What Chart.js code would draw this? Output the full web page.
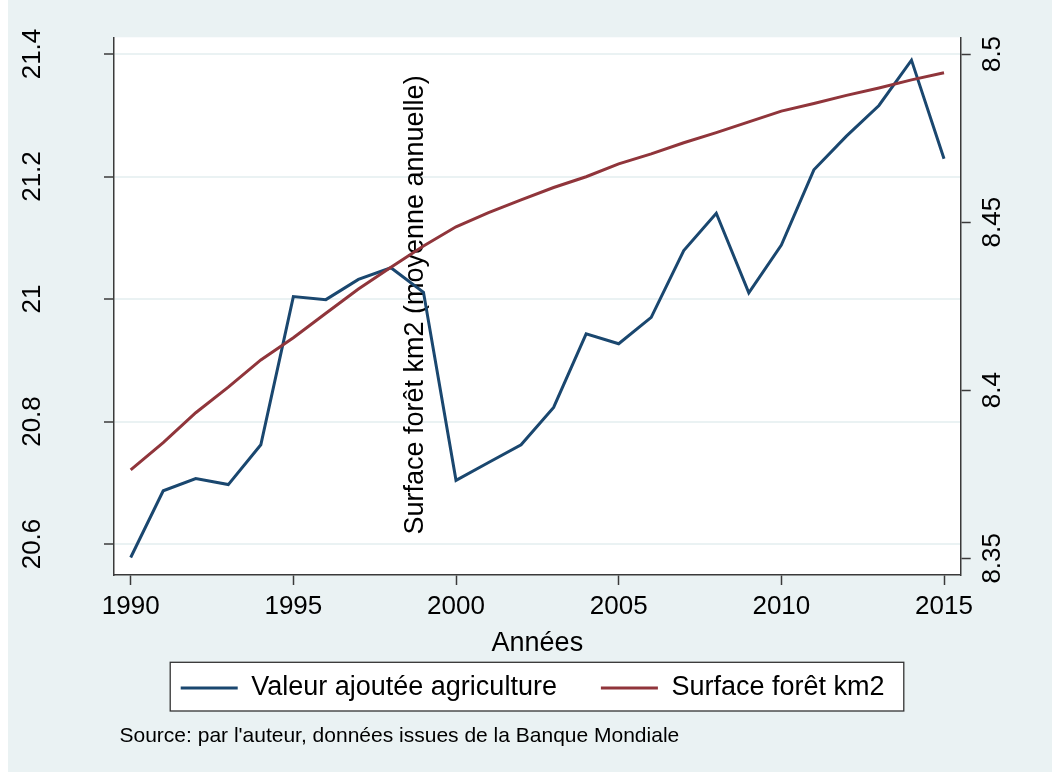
<!DOCTYPE html>
<html><head><meta charset="utf-8">
<script src="https://cdn.jsdelivr.net/npm/chart.js@4"></script>
<style>html,body{margin:0;padding:0;background:#fff;}canvas{display:block;}</style>
</head><body>
<canvas id="c" width="1052" height="772" style="width:1052px;height:772px"></canvas>
<script>
// ---- data ----
const years = [1990,1991,1992,1993,1994,1995,1996,1997,1998,1999,2000,2001,2002,2003,2004,2005,2006,2007,2008,2009,2010,2011,2012,2013,2014,2015];
const agriValue = [20.578,20.687,20.707,20.697,20.762,21.004,20.999,21.032,21.051,21.011,20.704,20.733,20.762,20.823,20.943,20.927,20.970,21.079,21.140,21.010,21.088,21.211,21.266,21.316,21.390,21.229];
const forestArea = [8.3763,8.3844,8.3933,8.4009,8.4090,8.4156,8.4229,8.4301,8.4366,8.4429,8.4486,8.4528,8.4566,8.4603,8.4635,8.4673,8.4703,8.4736,8.4766,8.4798,8.4830,8.4853,8.4877,8.4899,8.4923,8.4944];
const xTickValues = [1990,1995,2000,2005,2010,2015];
const leftTickValues = [20.6,20.8,21.0,21.2,21.4];
const rightTickValues = [8.35,8.40,8.45,8.50];
const seriesLabels = ['Valeur ajoutée agriculture','Surface forêt km2'];
const xTitle = 'Années';
const yTitle = 'Surface forêt km2 (moyenne annuelle)';
const sourceNote = "Source: par l'auteur, données issues de la Banque Mondiale";

// ---- style ----
const FONT = "'Liberation Sans', Arial, Helvetica, sans-serif";
const BG = '#EAF2F3';
const BLUE = '#1A476F';
const RED = '#90353B';
const AXIS = '#3a3a3a';

const decor = {
  id: 'decor',
  beforeDraw(chart) {
    const {ctx, chartArea: a, legend} = chart;
    ctx.save();
    ctx.fillStyle = BG;
    ctx.fillRect(8, 0, chart.width - 8, chart.height);
    ctx.fillStyle = '#fff';
    ctx.fillRect(a.left, a.top, a.right - a.left, a.bottom - a.top);
    if (legend && legend.lineWidths) {
      const pad = legend.options.labels.padding;
      const fs = legend.options.labels.font.size;
      const startX = (legend.left + pad + legend.right - legend.lineWidths[0]) / 2;
      const endX = startX + legend.lineWidths[0] - pad;
      const cy = legend.top + pad + fs / 2;
      const x0 = startX - 10.5, x1 = endX + 19.3, y0 = cy - 25.7, y1 = cy + 23;
      ctx.fillStyle = '#fff';
      ctx.fillRect(x0, y0, x1 - x0, y1 - y0);
      ctx.strokeStyle = '#333';
      ctx.lineWidth = 1.3;
      ctx.strokeRect(x0, y0, x1 - x0, y1 - y0);
    }
    ctx.restore();
  },
  beforeDatasetsDraw(chart) {
    const {ctx} = chart;
    ctx.save();
    ctx.fillStyle = '#000';
    ctx.font = '27px ' + FONT;
    ctx.translate(423, 305);
    ctx.rotate(-Math.PI / 2);
    ctx.textAlign = 'center';
    ctx.textBaseline = 'alphabetic';
    ctx.fillText(yTitle, 0, 0);
    ctx.restore();
  },
  afterDraw(chart) {
    const {ctx} = chart;
    ctx.save();
    ctx.font = '21px ' + FONT;
    ctx.fillStyle = '#000';
    ctx.textAlign = 'left';
    ctx.textBaseline = 'alphabetic';
    ctx.fillText(sourceNote, 119.5, 742);
    ctx.restore();
  }
};

const mk = (vals) => years.map((yr, i) => ({x: yr, y: vals[i]}));
const fmt = v => String(+Number(v).toFixed(2));

new Chart(document.getElementById('c'), {
  type: 'line',
  data: {
    datasets: [
      {label: seriesLabels[0], data: mk(agriValue), yAxisID: 'y', borderColor: BLUE, backgroundColor: BLUE,
       pointBorderColor: BLUE, pointBackgroundColor: BLUE, pointBorderWidth: 3,
       borderWidth: 3, pointRadius: 0, tension: 0, order: 1},
      {label: seriesLabels[1], data: mk(forestArea), yAxisID: 'y2', borderColor: RED, backgroundColor: RED,
       pointBorderColor: RED, pointBackgroundColor: RED, pointBorderWidth: 3,
       borderWidth: 3, pointRadius: 0, tension: 0, order: 0}
    ]
  },
  options: {
    responsive: false,
    animation: false,
    layout: {padding: {top: 37.3, left: 13.2, right: 0, bottom: 60.5}},
    scales: {
      x: {
        type: 'linear', position: 'bottom', min: 1989.487, max: 2015.513,
        afterBuildTicks: s => { s.ticks = xTickValues.map(v => ({value: v})); },
        afterFit: s => { s.height = 55.5; s.paddingLeft = 0; s.paddingRight = 0; },
        grid: {display: true, drawOnChartArea: false, drawTicks: true, tickLength: 10, tickColor: AXIS, tickWidth: 1.5},
        border: {display: true, color: AXIS, width: 1.5},
        ticks: {color: '#000', font: {family: FONT, size: 26}, padding: 6.4, maxRotation: 0, minRotation: 0, autoSkip: false, callback: v => String(v)},
        title: {display: true, text: xTitle, color: '#000', font: {family: FONT, size: 27}, padding: {top: 0, bottom: -29.3}}
      },
      y: {
        type: 'linear', position: 'left', min: 20.5494, max: 21.4273,
        afterBuildTicks: s => { s.ticks = leftTickValues.map(v => ({value: v})); },
        afterFit: s => { s.width = 100.8; s.paddingTop = 0; s.paddingBottom = 0; },
        grid: {color: BG, lineWidth: 2, drawTicks: true, tickLength: 10, tickColor: AXIS, tickWidth: 1.5},
        border: {display: true, color: AXIS, width: 1.5},
        ticks: {color: '#000', font: {family: FONT, size: 26}, minRotation: 90, maxRotation: 90, crossAlign: 'center', padding: 46.2, autoSkip: false, callback: fmt}
      },
      y2: {
        type: 'linear', position: 'right', min: 8.34503, max: 8.50497,
        afterBuildTicks: s => { s.ticks = rightTickValues.map(v => ({value: v})); },
        afterFit: s => { s.width = 91.3; s.paddingTop = 0; s.paddingBottom = 0; },
        grid: {drawOnChartArea: false, drawTicks: true, tickLength: 10, tickColor: AXIS, tickWidth: 1.5},
        border: {display: true, color: AXIS, width: 1.5},
        ticks: {color: '#000', font: {family: FONT, size: 26}, minRotation: 90, maxRotation: 90, crossAlign: 'center', padding: -3.5, autoSkip: false, callback: fmt}
      }
    },
    plugins: {
      legend: {
        position: 'bottom', fullSize: true, align: 'center',
        labels: {usePointStyle: true, pointStyle: 'line', pointStyleWidth: 57, boxHeight: 27, padding: 44,
                 color: '#000', font: {family: FONT, size: 27},
                 sort: (a, b) => a.datasetIndex - b.datasetIndex}
      },
      tooltip: {enabled: false}
    }
  },
  plugins: [decor]
});
</script>
</body></html>
